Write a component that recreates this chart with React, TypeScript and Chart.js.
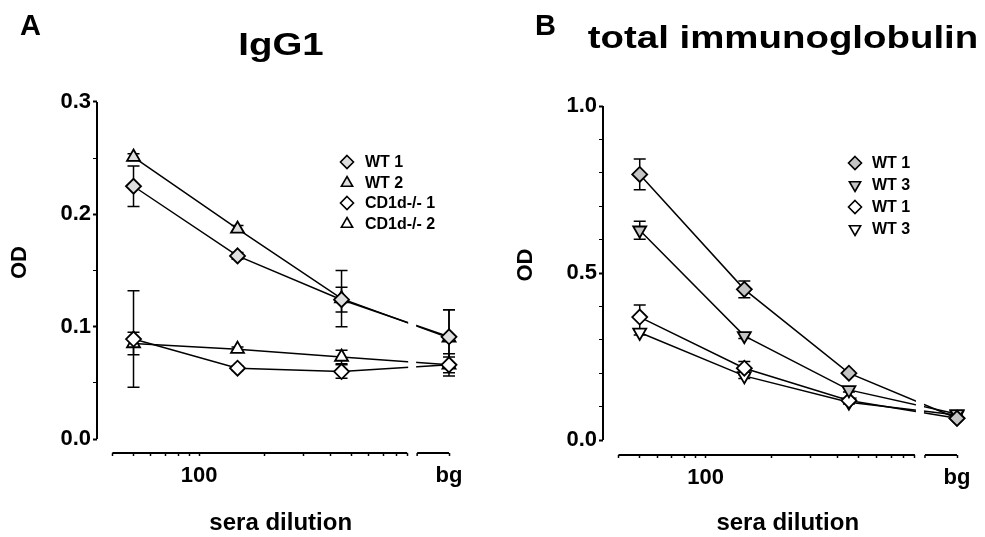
import React, { useEffect, useRef } from 'react';
import { Chart, registerables } from 'chart.js';

Chart.register(...registerables);

const FONT = "'Liberation Sans', Arial, Helvetica, sans-serif";

// ---- shared x axis (sera dilution, log scale, with a break before "bg") ----
const DILUTIONS = [50, 150, 450];
const BG_LABEL = 'bg';
const BG_VALUE = 1400; // where the "bg" category sits on the log axis
const X_VALUES = [...DILUTIONS, BG_VALUE];
const X_TICKS = [40, 50, 60, 70, 80, 90, 100, 200, 300, 400, 500, 600, 700, 800, 900];
const X_TICK_LABELS: Record<number, string> = { 100: '100', [BG_VALUE]: BG_LABEL };
const X_BREAK = [900, 1000];
const X_MIN = 34;
const X_TITLE = 'sera dilution';
const Y_TITLE = 'OD';

// ---- panel A: IgG1 ----
const A_Y_TICKS = [0, 0.1, 0.2, 0.3];
const A_Y_MINOR = 0.025;
const A_LABELS = ['WT 1', 'WT 2', 'CD1d-/- 1', 'CD1d-/- 2'];
const A_WT1 = [0.225, 0.163, 0.124, 0.091];
const A_WT1_ERR = [0.018, 0.003, 0.011, 0.024];
const A_WT2 = [0.251, 0.187, 0.125, 0.09];
const A_WT2_ERR = [0.003, 0.003, 0.025, 0.025];
const A_KO1 = [0.089, 0.063, 0.06, 0.066];
const A_KO1_ERR = [0.043, 0.002, 0.006, 0.01];
const A_KO2 = [0.085, 0.08, 0.073, 0.066];
const A_KO2_ERR = [0.01, 0.002, 0.006, 0.007];

// ---- panel B: total immunoglobulin ----
const B_Y_TICKS = [0, 0.5, 1.0];
const B_Y_MINOR = 0.1;
const B_LABELS = ['WT 1', 'WT 3', 'WT 1', 'WT 3'];
const B_WT1F = [0.795, 0.451, 0.2, 0.065];
const B_WT1F_ERR = [0.046, 0.025, 0.006, 0.004];
const B_WT3F = [0.628, 0.312, 0.15, 0.078];
const B_WT3F_ERR = [0.027, 0.008, 0.006, 0.004];
const B_WT1O = [0.368, 0.215, 0.118, 0.065];
const B_WT1O_ERR = [0.036, 0.02, 0.006, 0.004];
const B_WT3O = [0.322, 0.192, 0.113, 0.075];
const B_WT3O_ERR = [0.008, 0.008, 0.005, 0.004];

const W = 479;
const H = 537;

type Series = {
  label: string;
  values: number[];
  err: number[];
  style: 'rectRot' | 'triangle';
  rotation: number;
  fill: string;
};

type PanelCfg = {
  letter: string;
  title: string;
  letterX: number;
  titleX: number;
  titleBase: number;
  yMax: number;
  yTicks: number[];
  yMinor: number;
  top: number;
  zeroY: number;
  bottomY: number;
  axisX: number;
  rightX: number;
  legendMarkerX: number;
  legendTextX: number;
  legendRows: number[];
  series: Series[];
};

const FILL_A = '#dedede';
const FILL_B = '#c4c4c4';
const OPEN = '#ffffff';

const PANEL_A: PanelCfg = {
  letter: 'A',
  title: 'IgG1',
  letterX: 20,
  titleX: 281,
  titleBase: 55,
  yMax: 0.3,
  yTicks: A_Y_TICKS,
  yMinor: A_Y_MINOR,
  top: 102,
  zeroY: 439,
  bottomY: 453,
  axisX: 97,
  rightX: 449,
  legendMarkerX: 347,
  legendTextX: 365,
  legendRows: [162, 183, 203, 224],
  series: [
    { label: A_LABELS[0], values: A_WT1, err: A_WT1_ERR, style: 'rectRot', rotation: 0, fill: FILL_A },
    { label: A_LABELS[1], values: A_WT2, err: A_WT2_ERR, style: 'triangle', rotation: 0, fill: FILL_A },
    { label: A_LABELS[2], values: A_KO1, err: A_KO1_ERR, style: 'rectRot', rotation: 0, fill: OPEN },
    { label: A_LABELS[3], values: A_KO2, err: A_KO2_ERR, style: 'triangle', rotation: 0, fill: OPEN },
  ],
};

const PANEL_B: PanelCfg = {
  letter: 'B',
  title: 'total immunoglobulin',
  letterX: 29,
  titleX: 277,
  titleBase: 48,
  yMax: 1.0,
  yTicks: B_Y_TICKS,
  yMinor: B_Y_MINOR,
  top: 106,
  zeroY: 440,
  bottomY: 455,
  axisX: 97,
  rightX: 451,
  legendMarkerX: 349,
  legendTextX: 366,
  legendRows: [163, 185, 207, 229],
  series: [
    { label: B_LABELS[0], values: B_WT1F, err: B_WT1F_ERR, style: 'rectRot', rotation: 0, fill: FILL_B },
    { label: B_LABELS[1], values: B_WT3F, err: B_WT3F_ERR, style: 'triangle', rotation: 180, fill: FILL_B },
    { label: B_LABELS[2], values: B_WT1O, err: B_WT1O_ERR, style: 'rectRot', rotation: 0, fill: OPEN },
    { label: B_LABELS[3], values: B_WT3O, err: B_WT3O_ERR, style: 'triangle', rotation: 180, fill: OPEN },
  ],
};

function drawMarker(
  ctx: CanvasRenderingContext2D,
  style: string,
  x: number,
  y: number,
  r: number,
  rotation: number,
  fill: string,
  lw: number
) {
  ctx.save();
  ctx.beginPath();
  if (style === 'rectRot') {
    ctx.moveTo(x, y - r);
    ctx.lineTo(x + r, y);
    ctx.lineTo(x, y + r);
    ctx.lineTo(x - r, y);
  } else {
    const s = rotation ? -1 : 1;
    ctx.moveTo(x, y - s * r);
    ctx.lineTo(x + r * 0.866, y + s * r * 0.5);
    ctx.lineTo(x - r * 0.866, y + s * r * 0.5);
  }
  ctx.closePath();
  ctx.fillStyle = fill;
  ctx.fill();
  ctx.lineWidth = lw;
  ctx.strokeStyle = '#000';
  ctx.stroke();
  ctx.restore();
}

function makeDecor(cfg: PanelCfg) {
  return {
    id: 'panelDecor',
    beforeDatasetsDraw(chart: any) {
      const ctx: CanvasRenderingContext2D = chart.ctx;
      const xs = chart.scales.x;
      const ys = chart.scales.y;
      ctx.save();
      ctx.strokeStyle = '#000';
      ctx.lineWidth = 1.5;
      cfg.series.forEach((s) => {
        s.values.forEach((v, i) => {
          const e = s.err[i];
          if (!e) return;
          const px = xs.getPixelForValue(X_VALUES[i]);
          const yt = ys.getPixelForValue(v + e);
          const yb = ys.getPixelForValue(v - e);
          ctx.beginPath();
          ctx.moveTo(px, yt);
          ctx.lineTo(px, yb);
          ctx.moveTo(px - 6, yt);
          ctx.lineTo(px + 6, yt);
          ctx.moveTo(px - 6, yb);
          ctx.lineTo(px + 6, yb);
          ctx.stroke();
        });
      });
      ctx.restore();
    },
    afterDatasetsDraw(chart: any) {
      const ctx: CanvasRenderingContext2D = chart.ctx;
      const xs = chart.scales.x;
      const ys = chart.scales.y;
      const area = chart.chartArea;
      const bx0 = xs.getPixelForValue(X_BREAK[0]);
      const bx1 = xs.getPixelForValue(X_BREAK[1]);
      const y0 = ys.getPixelForValue(0);
      const yTop = ys.getPixelForValue(cfg.yMax);
      ctx.save();
      // axis break: gap through the connecting lines
      ctx.fillStyle = '#fff';
      ctx.fillRect(bx0 + 1, area.top, bx1 - bx0 - 2, y0 - area.top + 4);

      // axes
      ctx.strokeStyle = '#000';
      ctx.lineWidth = 2;
      ctx.beginPath();
      ctx.moveTo(area.left, yTop);
      ctx.lineTo(area.left, y0);
      const xStart = xs.getPixelForValue(X_TICKS[0]);
      const xEnd = xs.getPixelForValue(BG_VALUE);
      ctx.moveTo(xStart, area.bottom);
      ctx.lineTo(bx0, area.bottom);
      ctx.moveTo(bx1, area.bottom);
      ctx.lineTo(xEnd, area.bottom);
      ctx.stroke();
      ctx.lineWidth = 1.5;
      ctx.beginPath();
      ctx.moveTo(bx1, area.bottom);
      ctx.lineTo(bx1, area.bottom + 3);
      ctx.stroke();

      // legend
      ctx.font = `bold 16px ${FONT}`;
      ctx.fillStyle = '#000';
      ctx.textAlign = 'left';
      ctx.textBaseline = 'middle';
      cfg.series.forEach((s, i) => {
        const ly = cfg.legendRows[i];
        drawMarker(ctx, s.style, cfg.legendMarkerX, ly, 6.5, s.rotation, s.fill, 1.6);
        ctx.fillStyle = '#000';
        ctx.fillText(s.label, cfg.legendTextX, ly + 1);
      });

      // axis titles
      ctx.font = `bold 24px ${FONT}`;
      ctx.textAlign = 'center';
      ctx.textBaseline = 'alphabetic';
      ctx.fillText(X_TITLE, (xStart + xEnd) / 2, 530);
      ctx.save();
      ctx.translate(20, (yTop + y0) / 2 - 8);
      ctx.rotate(-Math.PI / 2);
      ctx.font = `bold 22px ${FONT}`;
      ctx.textBaseline = 'middle';
      ctx.fillText(Y_TITLE, 0, 0);
      ctx.restore();

      // panel letter and title
      ctx.textAlign = 'left';
      ctx.textBaseline = 'alphabetic';
      ctx.font = `bold 29px ${FONT}`;
      ctx.fillText(cfg.letter, cfg.letterX, 35);
      ctx.save();
      ctx.translate(cfg.titleX, cfg.titleBase);
      ctx.scale(1.2, 1);
      ctx.font = `bold 32px ${FONT}`;
      ctx.textAlign = 'center';
      ctx.fillText(cfg.title, 0, 0);
      ctx.restore();
      ctx.restore();
    },
  };
}

function buildConfig(cfg: PanelCfg): any {
  const yMin = (-cfg.yMax * (cfg.bottomY - cfg.zeroY)) / (cfg.zeroY - cfg.top);
  const nMinor = Math.round(cfg.yMax / cfg.yMinor);
  const yTickValues = Array.from({ length: nMinor + 1 }, (_, i) => i * cfg.yMinor);
  const isMajor = (v: number) => cfg.yTicks.some((m) => Math.abs(m - v) < 1e-9);
  return {
    type: 'line',
    data: {
      datasets: cfg.series.map((s) => ({
        label: s.label,
        data: X_VALUES.map((x, i) => ({ x, y: s.values[i] })),
        borderColor: '#000',
        borderWidth: 1.5,
        tension: 0,
        fill: false,
        pointStyle: s.style,
        pointRotation: s.rotation,
        pointRadius: 7.5,
        pointBorderWidth: 1.8,
        pointBorderColor: '#000',
        pointBackgroundColor: s.fill,
        clip: false,
      })),
    },
    options: {
      animation: false,
      responsive: false,
      devicePixelRatio: 1,
      events: [],
      layout: { padding: { top: cfg.top, right: W - cfg.rightX, left: 0, bottom: 0 } },
      plugins: {
        legend: { display: false },
        tooltip: { enabled: false },
        title: { display: false },
      },
      scales: {
        x: {
          type: 'logarithmic',
          min: X_MIN,
          max: BG_VALUE,
          border: { display: false },
          grid: {
            display: true,
            drawOnChartArea: false,
            drawTicks: true,
            tickLength: 3,
            color: '#000',
            tickColor: '#000',
            tickWidth: 1.5,
          },
          ticks: {
            autoSkip: false,
            maxRotation: 0,
            minRotation: 0,
            padding: 7,
            color: '#000',
            font: { family: FONT, size: 22, weight: 'bold' },
            callback: (v: any) => X_TICK_LABELS[Number(v)] ?? '',
          },
          afterBuildTicks: (scale: any) => {
            scale.ticks = [...X_TICKS, BG_VALUE].map((v) => ({ value: v }));
          },
          afterFit: (scale: any) => {
            scale.height = H - cfg.bottomY;
          },
        },
        y: {
          type: 'linear',
          min: yMin,
          max: cfg.yMax,
          border: { display: false },
          grid: {
            display: true,
            drawOnChartArea: false,
            drawTicks: true,
            tickLength: 4,
            color: '#000',
            tickColor: '#000',
            tickWidth: (c: any) => (c.tick && isMajor(c.tick.value) ? 2 : 1),
          },
          ticks: {
            padding: 2,
            color: '#000',
            font: { family: FONT, size: 22, weight: 'bold' },
            callback: (v: any) => {
              const m = cfg.yTicks.find((t) => Math.abs(t - Number(v)) < 1e-9);
              return m === undefined ? '' : m.toFixed(1);
            },
          },
          afterBuildTicks: (scale: any) => {
            scale.ticks = yTickValues.map((v) => ({ value: v }));
          },
          afterFit: (scale: any) => {
            scale.width = cfg.axisX;
          },
        },
      },
    },
    plugins: [makeDecor(cfg)],
  };
}

function Panel({ cfg, left }: { cfg: PanelCfg; left: number }) {
  const ref = useRef<HTMLCanvasElement>(null);
  useEffect(() => {
    if (!ref.current) return;
    const chart = new Chart(ref.current, buildConfig(cfg));
    return () => chart.destroy();
  }, [cfg]);
  return (
    <canvas
      ref={ref}
      width={W}
      height={H}
      style={{ position: 'absolute', left, top: 0, width: W, height: H }}
    />
  );
}

export default function App() {
  return (
    <div
      style={{
        position: 'fixed',
        left: 0,
        top: 0,
        width: 985,
        height: 537,
        background: '#fff',
        overflow: 'hidden',
      }}
    >
      <Panel cfg={PANEL_A} left={0} />
      <Panel cfg={PANEL_B} left={506} />
    </div>
  );
}
